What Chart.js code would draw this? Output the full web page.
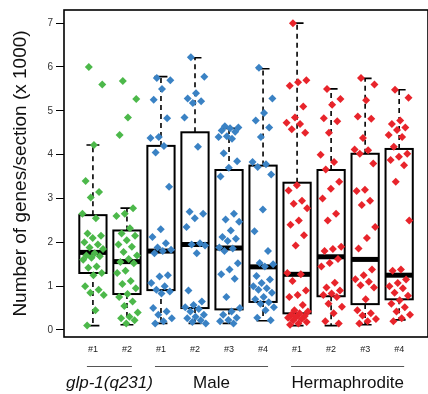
<!DOCTYPE html>
<html lang="en">
<head>
<meta charset="UTF-8">
<title>Genes per section</title>
<script src="https://cdn.jsdelivr.net/npm/chart.js@4.4.0/dist/chart.umd.min.js"></script>
<style>
  * { box-sizing: border-box; margin: 0; padding: 0; }
  body { background: #fff; }
  #chart { display: block; }
</style>
</head>
<body>
<canvas id="chart" width="428" height="394"></canvas>
<script>
  // sample labels under the x axis, and the strain each one belongs to
  const sampleLabels = ['#1', '#2', '#1', '#2', '#3', '#4', '#1', '#2', '#3', '#4'];
  const sampleStrain = [0, 0, 1, 1, 1, 1, 2, 2, 2, 2];
  const strainNames = ['glp-1(q231)', 'Male', 'Hermaphrodite'];
  const strainSpans = [[0, 1], [2, 5], [6, 9]];
  const strainColors = ['#4cb84a', '#3a82c4', '#e8242b'];

  // box statistics (x 1000 genes)
  const whiskerLow  = [0.10, 0.12, 0.15, 0.15, 0.15, 0.21, 0.10, 0.10, 0.12, 0.23];
  const q1          = [1.30, 0.82, 0.91, 0.50, 0.47, 0.64, 0.38, 0.77, 0.59, 0.70];
  const median      = [1.77, 1.56, 1.80, 1.95, 1.87, 1.44, 1.27, 1.67, 1.61, 1.25];
  const q3          = [2.62, 2.27, 4.20, 4.51, 3.65, 3.75, 3.36, 3.65, 4.02, 4.13];
  const whiskerHigh = [4.22, 2.78, 5.78, 6.21, 4.60, 5.96, 7.00, 5.50, 5.74, 5.48];

  // individual sections
  const glp1 = [6.0, 5.6, 4.22, 3.4, 3.15, 3.02, 2.65, 2.55, 2.2, 2.15, 2.1, 2.0, 1.95, 1.88, 1.85, 1.75, 1.7, 1.68, 1.65, 1.6, 1.45, 1.42, 1.3, 1.25, 1.0, 0.92, 0.85, 0.8, 0.45, 0.1];
  const glp2 = [5.68, 5.27, 4.85, 4.45, 2.78, 2.65, 2.6, 2.32, 2.2, 2.15, 2.05, 1.95, 1.9, 1.78, 1.7, 1.62, 1.55, 1.52, 1.35, 1.3, 1.12, 1.05, 0.95, 0.82, 0.75, 0.65, 0.55, 0.4, 0.3, 0.27, 0.22, 0.15];
  const male1 = [5.75, 5.7, 5.5, 5.25, 4.83, 4.4, 4.38, 4.2, 4.05, 3.27, 2.3, 2.12, 1.98, 1.88, 1.83, 1.8, 1.75, 1.25, 1.22, 1.07, 1.0, 0.92, 0.88, 0.83, 0.5, 0.42, 0.35, 0.27, 0.2, 0.15];
  const male2 = [6.22, 5.78, 5.4, 5.28, 5.22, 5.18, 4.85, 4.18, 2.7, 2.65, 2.55, 2.35, 1.98, 1.95, 1.93, 1.75, 0.9, 0.65, 0.57, 0.52, 0.48, 0.42, 0.35, 0.3, 0.27, 0.22, 0.18, 0.15];
  const male3 = [4.65, 4.62, 4.6, 4.55, 4.52, 4.42, 4.4, 4.36, 4.03, 3.85, 3.7, 3.5, 2.65, 2.52, 2.47, 2.27, 2.12, 2.08, 2.03, 1.88, 1.86, 1.8, 1.52, 1.38, 1.27, 1.17, 0.75, 0.5, 0.42, 0.35, 0.28, 0.23, 0.2, 0.15];
  const male4 = [5.98, 5.28, 4.95, 4.78, 4.62, 4.4, 3.83, 3.78, 3.72, 3.55, 2.75, 2.25, 1.8, 1.53, 1.5, 1.45, 1.23, 1.15, 1.07, 1.0, 0.95, 0.92, 0.85, 0.75, 0.7, 0.63, 0.6, 0.52, 0.45, 0.28, 0.22];
  const herm1 = [7.0, 5.7, 5.65, 5.57, 5.1, 4.85, 4.73, 4.7, 4.58, 4.5, 3.3, 3.18, 2.95, 2.88, 2.78, 2.5, 2.4, 2.16, 1.93, 1.3, 1.27, 1.12, 0.9, 0.8, 0.75, 0.57, 0.45, 0.42, 0.38, 0.35, 0.32, 0.3, 0.28, 0.25, 0.22, 0.18, 0.15, 0.12];
  const herm2 = [5.5, 5.27, 5.14, 4.83, 4.76, 4.5, 4.0, 3.83, 3.66, 3.38, 3.22, 3.0, 2.65, 2.5, 1.9, 1.85, 1.8, 1.62, 1.53, 1.45, 1.08, 0.97, 0.9, 0.83, 0.8, 0.75, 0.6, 0.53, 0.38, 0.2, 0.15];
  const herm3 = [5.75, 5.6, 5.24, 4.87, 4.82, 4.38, 4.12, 4.1, 4.02, 3.8, 3.2, 3.17, 2.95, 2.85, 2.35, 2.1, 1.86, 1.38, 1.25, 1.16, 1.1, 1.02, 0.97, 0.7, 0.45, 0.38, 0.33, 0.25, 0.2, 0.15];
  const herm4 = [5.48, 5.3, 4.78, 4.7, 4.62, 4.56, 4.45, 4.4, 4.18, 4.02, 3.95, 3.88, 3.76, 3.38, 2.5, 1.38, 1.35, 1.15, 1.07, 1.0, 0.95, 0.85, 0.78, 0.68, 0.6, 0.52, 0.42, 0.35, 0.27, 0.2];

  const samples = [glp1, glp2, male1, male2, male3, male4, herm1, herm2, herm3, herm4];

  const FONT = "'Liberation Sans', Arial, sans-serif";

  // spread points sideways, deterministic (golden ratio steps)
  function jitter(i) {
    return ((i * 0.6180339887 + 0.31) % 1 - 0.5) * 0.64;
  }

  const boxPlugin = {
    id: 'boxes',
    beforeDatasetsDraw(chart) {
      const { ctx, chartArea: a, scales: { x, y } } = chart;
      ctx.save();
      ctx.strokeStyle = '#000';
      q1.forEach((_, i) => {
        const xl = x.getPixelForValue(i - 0.4);
        const xr = x.getPixelForValue(i + 0.4);
        const xc = x.getPixelForValue(i);
        const cap = x.getPixelForValue(i + 0.19) - xc;
        const yLo = y.getPixelForValue(whiskerLow[i]);
        const yQ1 = y.getPixelForValue(q1[i]);
        const yMed = y.getPixelForValue(median[i]);
        const yQ3 = y.getPixelForValue(q3[i]);
        const yHi = y.getPixelForValue(whiskerHigh[i]);

        // whiskers
        ctx.lineWidth = 1.6;
        ctx.setLineDash([5, 4]);
        ctx.beginPath();
        ctx.moveTo(xc, yQ3); ctx.lineTo(xc, yHi);
        ctx.moveTo(xc, yQ1); ctx.lineTo(xc, yLo);
        ctx.stroke();
        ctx.setLineDash([]);
        ctx.beginPath();
        ctx.moveTo(xc - 1, yHi); ctx.lineTo(xc + cap, yHi);
        ctx.moveTo(xc - 1, yLo); ctx.lineTo(xc + cap, yLo);
        ctx.moveTo(xc - cap, yHi); ctx.lineTo(xc, yHi);
        ctx.moveTo(xc - cap, yLo); ctx.lineTo(xc, yLo);
        ctx.stroke();

        // box
        ctx.lineWidth = 2;
        ctx.strokeRect(xl, yQ3, xr - xl, yQ1 - yQ3);

        // median
        ctx.lineWidth = 5;
        ctx.beginPath();
        ctx.moveTo(xl, yMed); ctx.lineTo(xr, yMed);
        ctx.stroke();
      });

      // frame (right side runs off the canvas)
      ctx.lineWidth = 1.6;
      ctx.strokeRect(a.left, a.top, a.right - a.left + 4, a.bottom - a.top);
      ctx.restore();
    },
    afterDraw(chart) {
      const { ctx, chartArea: a, scales: { x } } = chart;
      ctx.save();
      ctx.strokeStyle = '#555';
      ctx.lineWidth = 1;
      ctx.fillStyle = '#111';
      ctx.textAlign = 'center';
      ctx.textBaseline = 'middle';
      strainSpans.forEach(([from, to], k) => {
        const x0 = x.getPixelForValue(from) - 6;
        const x1 = x.getPixelForValue(to) + 5;
        ctx.beginPath();
        ctx.moveTo(x0, a.bottom + 29.5);
        ctx.lineTo(x1, a.bottom + 29.5);
        ctx.stroke();
        ctx.font = (k === 0 ? 'italic ' : '') + '17px ' + FONT;
        ctx.fillText(strainNames[k], (x0 + x1) / 2, a.bottom + 46);
      });
      ctx.restore();
    }
  };

  const datasets = samples.map((vals, s) => ({
    label: sampleLabels[s],
    data: vals.map((v, i) => ({ x: s + jitter(i), y: v })),
    pointStyle: 'rectRot',
    pointRadius: 4,
    pointBorderWidth: 0,
    backgroundColor: strainColors[sampleStrain[s]],
    borderColor: strainColors[sampleStrain[s]],
  }));

  new Chart(document.getElementById('chart'), {
    type: 'scatter',
    data: { datasets },
    options: {
      responsive: false,
      animation: false,
      devicePixelRatio: 1,
      layout: { padding: { top: 10, right: 0, left: 0, bottom: 0 } },
      plugins: { legend: { display: false }, tooltip: { enabled: false } },
      scales: {
        x: {
          type: 'linear',
          min: -0.85,
          max: 9.73,
          afterBuildTicks: (s) => { s.ticks = sampleLabels.map((_, i) => ({ value: i })); },
          afterFit: (s) => { s.height = 57; },
          grid: { display: false, drawTicks: false },
          border: { display: false },
          ticks: {
            autoSkip: false,
            maxRotation: 0,
            padding: 7,
            color: '#222',
            font: { family: FONT, size: 9 },
            callback: (v) => sampleLabels[v],
          },
        },
        y: {
          min: -0.16,
          max: 7.3,
          afterFit: (s) => { s.width = 64; },
          border: { display: false },
          grid: { drawOnChartArea: false, drawTicks: true, tickLength: 8, color: '#000', lineWidth: 1 },
          ticks: {
            stepSize: 1,
            includeBounds: false,
            padding: 3,
            color: '#333',
            font: { family: FONT, size: 10 },
          },
          title: {
            display: true,
            text: 'Number of genes/section (x 1000)',
            color: '#111',
            font: { family: FONT, size: 19 },
            padding: { top: 9, bottom: 0 },
          },
        },
      },
    },
    plugins: [boxPlugin],
  });
</script>
</body>
</html>
